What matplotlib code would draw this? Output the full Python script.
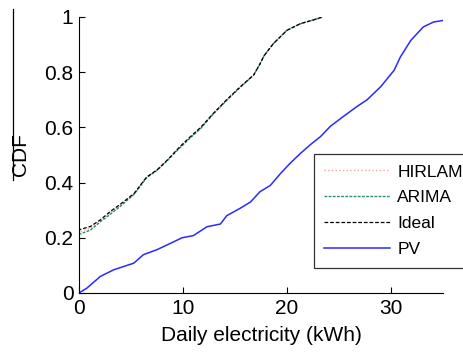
import numpy as np
import matplotlib.pyplot as plt
from matplotlib.lines import Line2D

plt.rcParams['font.family'] = ['Liberation Sans', 'DejaVu Sans']

ideal_x = [0, 0, 1.1, 2.05, 3.0, 4.1, 5.3, 6.5, 7.5, 8.5, 9.7, 10.7, 11.7, 12.9,
           14.2, 15.5, 16.8, 17.4, 17.8, 18.7, 20.0, 21.3, 22.6, 23.4]
ideal_y = [0, 0.229, 0.241, 0.265, 0.295, 0.325, 0.361, 0.42, 0.446, 0.482, 0.53, 0.566,
           0.60, 0.65, 0.70, 0.747, 0.79, 0.83, 0.86, 0.904, 0.952, 0.976, 0.99, 1.0]
arima_y = [0, 0.212, 0.228, 0.258, 0.285, 0.318, 0.358, 0.418, 0.444, 0.48, 0.526, 0.562,
           0.596, 0.648, 0.698, 0.745, 0.79, 0.83, 0.86, 0.904, 0.952, 0.976, 0.99, 1.0]
hirlam_y = [0, 0.22, 0.235, 0.262, 0.29, 0.322, 0.356, 0.419, 0.445, 0.481, 0.528, 0.564,
            0.598, 0.649, 0.699, 0.746, 0.79, 0.83, 0.86, 0.904, 0.952, 0.976, 0.99, 1.0]

pv_x = [0, 0.77, 2.05, 3.33, 5.26, 6.2, 7.5, 8.8, 9.9, 11.0, 12.3, 13.6, 14.2, 15.5,
        16.5, 17.4, 18.4, 19.4, 20.3, 21.3, 22.2, 23.2, 24.2, 25.4, 26.7, 27.7, 29.0,
        30.3, 30.9, 31.9, 33.1, 34.1, 35.1]
pv_y = [0, 0.018, 0.06, 0.084, 0.108, 0.139, 0.157, 0.18, 0.2, 0.208, 0.24, 0.25, 0.28,
        0.307, 0.33, 0.367, 0.39, 0.434, 0.47, 0.506, 0.536, 0.566, 0.605, 0.639, 0.675,
        0.70, 0.747, 0.807, 0.855, 0.915, 0.964, 0.982, 0.988]

fig = plt.figure(figsize=(4.64, 3.55), dpi=100)
ax = fig.add_axes([79/464, 1-293/355, (443-79)/464, (293-17)/355])

ax.plot(ideal_x, hirlam_y, color='#f4a39b', ls=':', lw=1, label='HIRLAM')
ax.plot(ideal_x, arima_y, color='#2e8b6a', ls=(0, (2, 1)), lw=1, label='ARIMA')
ax.plot(ideal_x, ideal_y, color='black', ls=(0, (3, 1.5)), lw=0.9, label='Ideal')
ax.plot(pv_x, pv_y, color='#2a2aff', lw=1.1, label='PV')

ax.set_xlim(0, 35)
ax.set_ylim(0, 1)
ax.set_xticks([0, 10, 20, 30])
ax.set_yticks([0, 0.2, 0.4, 0.6, 0.8, 1])
ax.set_yticklabels(['0', '0.2', '0.4', '0.6', '0.8', '1'])
ax.tick_params(direction='in', labelsize=15, length=4, width=0.8, pad=4)
ax.spines['top'].set_visible(False)
ax.spines['right'].set_visible(False)
ax.set_xlabel('Daily electricity (kWh)', fontsize=15, labelpad=6)
ax.set_ylabel('CDF', fontsize=15, labelpad=10)

leg = ax.legend(loc='upper left', bbox_to_anchor=(314/464, 1-154/355),
                bbox_transform=fig.transFigure, fontsize=12.5, frameon=True,
                fancybox=False, edgecolor='black', borderaxespad=0,
                handlelength=3.8, handletextpad=0.4, labelspacing=0.62,
                borderpad=0.6)
leg.get_frame().set_linewidth(0.9)

fig.add_artist(Line2D([13/464, 13/464], [1-9/355, 1-180/355], color='black', lw=0.9))

fig.savefig('out.png')
